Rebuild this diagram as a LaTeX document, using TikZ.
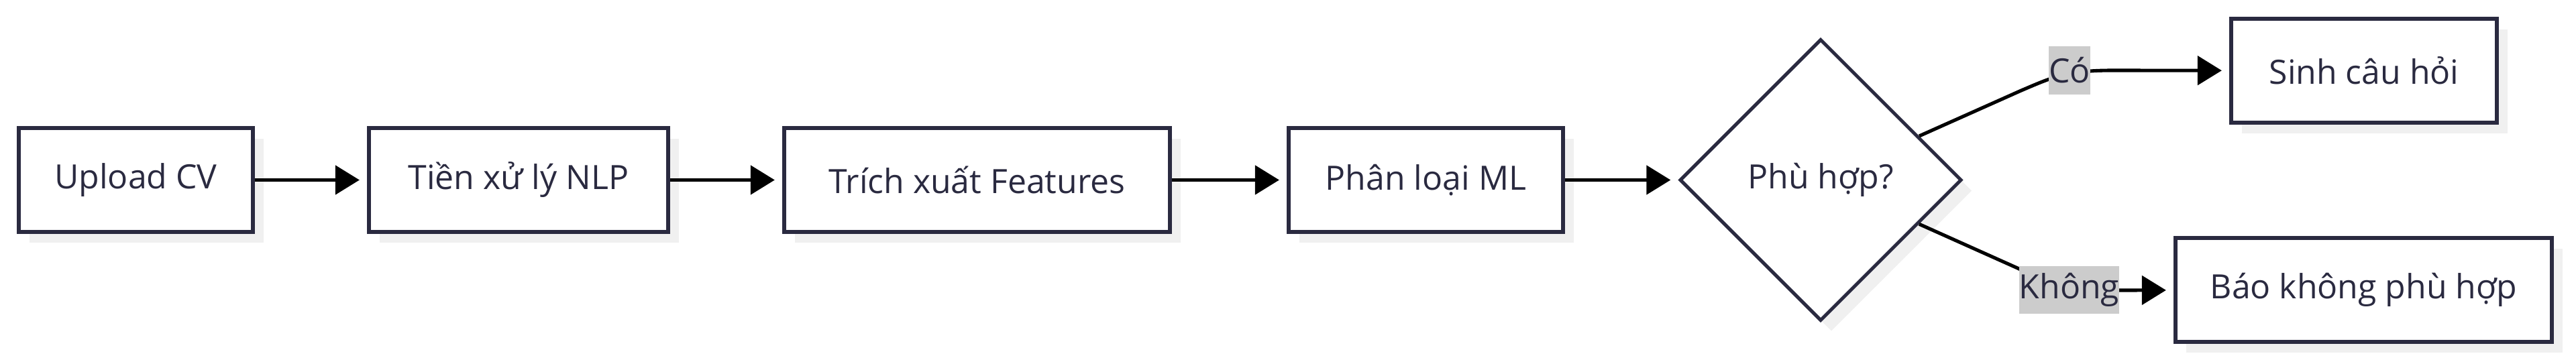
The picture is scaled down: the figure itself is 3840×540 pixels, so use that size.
\documentclass[tikz,border=0pt]{standalone}
\usepackage{fontspec}
\setmainfont{Open Sans}
\usetikzlibrary{arrows.meta,shapes.geometric,shadows}
\definecolor{ink}{RGB}{42,42,64}
\definecolor{shadecol}{RGB}{240,240,240}
\definecolor{lblbg}{RGB}{204,204,204}
\begin{document}
\begin{tikzpicture}[x=0.01cm,y=-0.01cm,
  font=\fontsize{14.2pt}{17pt}\selectfont,
  boxshadow/.style={drop shadow={shadow xshift=0.16cm, shadow yshift=-0.16cm, fill=shadecol, opacity=1}},
  stepbox/.style={rectangle, draw=ink, line width=1.7pt, fill=white, text=ink,
    inner sep=0pt, minimum height=1.55cm, boxshadow},
  decision/.style={diamond, aspect=1, draw=ink, line width=1.45pt, fill=white, text=ink,
    inner sep=0pt, minimum width=4.2cm, minimum height=4.2cm, boxshadow},
  flow/.style={draw=black, line width=1.45pt, -{Triangle[length=0.36cm,width=0.43cm]}, shorten >=0.11cm},
  edgelabel/.style={fill=lblbg, text=ink, inner sep=0pt, minimum height=0.71cm}
]
\useasboundingbox (0,0) rectangle (3840,540);
\node[stepbox, minimum width=3.49cm] (up) at (202.5,268.5) {Upload CV};
\node[stepbox, minimum width=4.46cm] (nlp) at (773,268.5) {Tiền xử lý NLP};
\node[stepbox, minimum width=5.75cm] (feat) at (1456.5,268.5) {Trích xuất Features};
\node[stepbox, minimum width=4.09cm] (ml) at (2125.5,268.5) {Phân loại ML};
\node[decision] (dec) at (2714,268.5) {Phù hợp?};
\node[stepbox, minimum width=3.96cm] (ask) at (3524,105.5) {Sinh câu hỏi};
\node[stepbox, minimum width=5.61cm] (rej) at (3523.5,432.5) {Báo không phù hợp};

\draw[flow] (up) -- (nlp);
\draw[flow] (nlp) -- (feat);
\draw[flow] (feat) -- (ml);
\draw[flow] (ml) -- (dec);

\coordinate (y1) at (3013,135);
\coordinate (y2) at (3060,115);
\coordinate (y3) at (3080,105);
\coordinate (y4) at (3150,105);
\draw[flow] (dec) -- (y1) .. controls (y2) and (y3) .. (y4) -- (ask);

\coordinate (n1) at (3012,402);
\coordinate (n2) at (3060,423);
\coordinate (n3) at (3080,433);
\coordinate (n4) at (3150,433);
\draw[flow] (dec) -- (n1) .. controls (n2) and (n3) .. (n4) -- (rej);

\node[edgelabel] (yes) at (3085,105) {Có};
\node[edgelabel] (no) at (3084.5,432.5) {Không};
\end{tikzpicture}
\end{document}
